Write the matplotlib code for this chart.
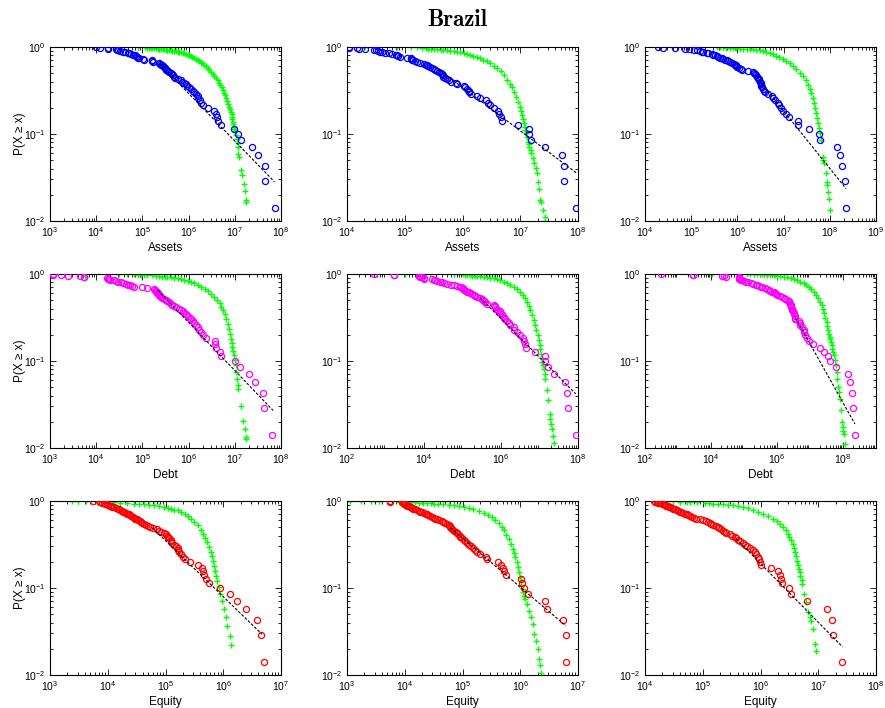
import numpy as np
import matplotlib
matplotlib.use('Agg')
import matplotlib.pyplot as plt
from matplotlib.ticker import LogLocator, NullFormatter, LogFormatterSciNotation

plt.rcParams['font.family'] = ['Liberation Sans', 'DejaVu Sans']
plt.rcParams['mathtext.fontset'] = 'custom'
plt.rcParams['mathtext.rm'] = 'Liberation Sans'
plt.rcParams['mathtext.it'] = 'Liberation Sans:italic'
plt.rcParams['mathtext.bf'] = 'Liberation Sans:bold'

# ---------------- data (log10 of values) ----------------
variables = ['Assets', 'Debt', 'Equity']
emp_colors = ['#0000ff', '#ff00ff', '#ff0000']

# empirical observations, sorted from largest to smallest (log10 x)
assets_1 = [7.86, 7.65, 7.65, 7.51, 7.38, 7.13, 7.06, 6.98, 6.71, 6.63,
            6.62, 6.60, 6.56, 6.43, 6.31, 6.27, 6.24, 6.21, 6.20, 6.16,
            6.12, 6.09, 6.05, 6.00, 5.96, 5.94, 5.90, 5.86, 5.83, 5.76,
            5.70, 5.68, 5.66, 5.64, 5.62, 5.58, 5.55, 5.52, 5.50, 5.48,
            5.46, 5.44, 5.42, 5.40, 5.38, 5.36, 5.22, 5.21, 5.20, 5.03,
            5.02, 4.92, 4.90, 4.88, 4.86, 4.84, 4.80, 4.76, 4.72, 4.68,
            4.62, 4.58, 4.52, 4.47, 4.44, 4.42, 4.25, 4.25, 4.09, 4.00]
assets_2 = [7.97, 7.76, 7.76, 7.72, 7.43, 7.19, 7.16, 7.15, 6.96, 6.68,
            6.67, 6.64, 6.61, 6.54, 6.48, 6.45, 6.40, 6.31, 6.25, 6.14,
            6.12, 6.11, 6.08, 6.05, 6.02, 5.90, 5.88, 5.80, 5.76, 5.73,
            5.70, 5.67, 5.66, 5.64, 5.62, 5.59, 5.56, 5.53, 5.50, 5.47,
            5.44, 5.41, 5.39, 5.36, 5.33, 5.27, 5.21, 5.18, 5.15, 5.13,
            5.10, 5.10, 5.04, 4.92, 4.89, 4.87, 4.84, 4.78, 4.72, 4.66,
            4.61, 4.57, 4.53, 4.51, 4.46, 4.32, 4.20, 4.17, 4.03, 4.03]
assets_3 = [8.34, 8.32, 8.27, 8.22, 8.15, 7.78, 7.76, 7.55, 7.31, 7.31,
            7.12, 7.05, 6.99, 6.95, 6.91, 6.88, 6.81, 6.77, 6.74, 6.66,
            6.59, 6.57, 6.55, 6.53, 6.52, 6.52, 6.50, 6.48, 6.47, 6.46,
            6.45, 6.43, 6.41, 6.39, 6.37, 6.34, 6.24, 6.11, 6.07, 6.03,
            6.00, 5.98, 5.98, 5.95, 5.92, 5.88, 5.84, 5.80, 5.77, 5.74,
            5.69, 5.66, 5.62, 5.58, 5.56, 5.51, 5.48, 5.45, 5.37, 5.35,
            5.26, 5.24, 5.18, 5.13, 5.06, 4.96, 4.86, 4.65, 4.38, 4.29]
debt_1 = [7.81, 7.64, 7.61, 7.43, 7.30, 7.11, 7.01, 6.71, 6.68, 6.60,
          6.58, 6.58, 6.38, 6.31, 6.26, 6.23, 6.20, 6.16, 6.12, 6.09,
          6.05, 6.02, 5.98, 5.94, 5.91, 5.87, 5.83, 5.80, 5.73, 5.69,
          5.65, 5.62, 5.58, 5.54, 5.51, 5.47, 5.43, 5.40, 5.38, 5.36,
          5.34, 5.33, 5.31, 5.30, 5.29, 5.27, 5.25, 5.11, 5.00, 4.82,
          4.78, 4.73, 4.69, 4.64, 4.58, 4.53, 4.47, 4.42, 4.38, 4.29,
          4.27, 4.25, 4.24, 3.74, 3.73, 3.65, 3.40, 3.23, 3.07, 3.06]
debt_2 = [7.94, 7.74, 7.71, 7.67, 7.37, 7.21, 7.15, 7.14, 6.89, 6.64,
          6.62, 6.61, 6.57, 6.50, 6.42, 6.35, 6.33, 6.24, 6.20, 6.16,
          6.11, 6.07, 6.05, 6.03, 5.98, 5.97, 5.91, 5.88, 5.85, 5.84,
          5.81, 5.64, 5.58, 5.55, 5.53, 5.51, 5.46, 5.38, 5.33, 5.29,
          5.25, 5.20, 5.16, 5.12, 5.08, 5.05, 5.02, 5.00, 4.97, 4.94,
          4.86, 4.77, 4.70, 4.60, 4.51, 4.47, 4.42, 4.34, 4.29, 4.25,
          4.21, 4.01, 3.99, 3.95, 3.90, 3.87, 3.86, 3.23, 3.23, 2.71]
debt_3 = [8.36, 8.31, 8.26, 8.21, 8.16, 7.78, 7.60, 7.54, 7.42, 7.30,
          7.10, 6.97, 6.92, 6.86, 6.83, 6.81, 6.76, 6.71, 6.69, 6.66,
          6.56, 6.55, 6.54, 6.51, 6.50, 6.49, 6.46, 6.44, 6.43, 6.42,
          6.41, 6.39, 6.37, 6.36, 6.31, 6.25, 6.20, 6.15, 6.10, 6.00,
          5.97, 5.93, 5.90, 5.85, 5.80, 5.75, 5.70, 5.63, 5.56, 5.50,
          5.45, 5.40, 5.35, 5.27, 5.20, 5.13, 5.07, 5.00, 4.95, 4.91,
          4.89, 4.86, 4.84, 4.84, 4.46, 4.38, 4.33, 3.45, 3.45, 2.48]
equity_1 = [6.70, 6.65, 6.59, 6.40, 6.24, 6.11, 5.94, 5.76, 5.70, 5.67,
            5.65, 5.63, 5.56, 5.43, 5.33, 5.30, 5.27, 5.24, 5.22, 5.21,
            5.18, 5.15, 5.12, 5.10, 5.09, 5.06, 5.04, 5.02, 5.00, 4.98,
            4.93, 4.89, 4.86, 4.79, 4.74, 4.69, 4.66, 4.63, 4.60, 4.57,
            4.55, 4.53, 4.50, 4.48, 4.45, 4.43, 4.41, 4.39, 4.36, 4.34,
            4.32, 4.29, 4.27, 4.25, 4.22, 4.19, 4.17, 4.14, 4.11, 4.08,
            4.06, 4.04, 4.01, 3.99, 3.96, 3.93, 3.90, 3.87, 3.86, 3.74]
equity_2 = [6.79, 6.79, 6.74, 6.46, 6.42, 6.13, 6.06, 6.03, 6.01, 5.76,
            5.72, 5.70, 5.66, 5.61, 5.42, 5.40, 5.31, 5.25, 5.22, 5.18,
            5.15, 5.11, 5.08, 5.05, 5.02, 4.99, 4.96, 4.95, 4.93, 4.90,
            4.88, 4.85, 4.82, 4.80, 4.79, 4.78, 4.76, 4.73, 4.70, 4.67,
            4.65, 4.59, 4.56, 4.53, 4.50, 4.47, 4.44, 4.41, 4.39, 4.36,
            4.33, 4.30, 4.27, 4.24, 4.21, 4.18, 4.15, 4.13, 4.10, 4.09,
            4.07, 4.04, 4.03, 4.01, 3.99, 3.98, 3.97, 3.95, 3.74, 3.74]
equity_3 = [7.41, 7.25, 7.24, 7.15, 6.80, 6.52, 6.49, 6.38, 6.36, 6.33,
            6.30, 6.19, 6.01, 5.99, 5.97, 5.96, 5.93, 5.90, 5.87, 5.81,
            5.76, 5.73, 5.70, 5.65, 5.61, 5.58, 5.55, 5.50, 5.47, 5.41,
            5.38, 5.35, 5.32, 5.29, 5.27, 5.23, 5.18, 5.15, 5.12, 5.09,
            5.05, 5.01, 4.95, 4.89, 4.85, 4.81, 4.78, 4.75, 4.72, 4.69,
            4.66, 4.63, 4.60, 4.58, 4.55, 4.52, 4.49, 4.46, 4.43, 4.41,
            4.39, 4.36, 4.35, 4.33, 4.29, 4.26, 4.23, 4.20, 4.17, 4.16]

# green model points: (log10 x, log10 P)
model_a1 = [(4.42, 0.0), (4.91, 0.0), (5.05, -0.004), (5.11, -0.012), (5.14, -0.008),
            (5.18, -0.012), (5.21, -0.012), (5.25, -0.015), (5.29, -0.017), (5.33, -0.019),
            (5.36, -0.021), (5.40, -0.023), (5.44, -0.025), (5.47, -0.027), (5.50, -0.029),
            (5.54, -0.031), (5.58, -0.035), (5.62, -0.038), (5.65, -0.042), (5.69, -0.046),
            (5.72, -0.050), (5.76, -0.054), (5.80, -0.058), (5.83, -0.062), (5.87, -0.067),
            (5.91, -0.073), (5.94, -0.080), (5.98, -0.088), (6.01, -0.096), (6.05, -0.104),
            (6.08, -0.113), (6.12, -0.123), (6.16, -0.134), (6.20, -0.146), (6.23, -0.159),
            (6.27, -0.173), (6.30, -0.188), (6.34, -0.204), (6.38, -0.222), (6.42, -0.242),
            (6.45, -0.262), (6.49, -0.285), (6.52, -0.307), (6.56, -0.331), (6.59, -0.357),
            (6.63, -0.385), (6.66, -0.411), (6.69, -0.438), (6.72, -0.465), (6.74, -0.492),
            (6.77, -0.523), (6.79, -0.554), (6.82, -0.585), (6.84, -0.615), (6.86, -0.650),
            (6.88, -0.685), (6.90, -0.713), (6.91, -0.742), (6.93, -0.771), (6.94, -0.800),
            (6.95, -0.829), (6.96, -0.858), (6.97, -0.887), (6.98, -0.915), (6.99, -0.940),
            (7.00, -0.962), (7.02, -1.012), (7.04, -1.062), (7.06, -1.108), (7.07, -1.146),
            (7.08, -1.231), (7.09, -1.262), (7.14, -1.415), (7.16, -1.473), (7.19, -1.569),
            (7.22, -1.654), (7.25, -1.754), (7.25, -1.781)]
model_a2 = [(4.32, -0.004), (4.87, 0.0), (5.10, -0.004), (5.21, -0.004), (5.30, -0.012),
            (5.36, -0.015), (5.41, -0.019), (5.46, -0.021), (5.50, -0.023), (5.56, -0.027),
            (5.62, -0.031), (5.67, -0.035), (5.73, -0.038), (5.79, -0.044), (5.85, -0.050),
            (5.90, -0.056), (5.96, -0.062), (6.02, -0.071), (6.08, -0.081), (6.13, -0.090),
            (6.19, -0.100), (6.25, -0.113), (6.31, -0.127), (6.36, -0.145), (6.42, -0.165),
            (6.48, -0.188), (6.54, -0.215), (6.60, -0.246), (6.66, -0.281), (6.71, -0.327),
            (6.77, -0.377), (6.82, -0.420), (6.86, -0.462), (6.90, -0.515), (6.93, -0.569),
            (6.96, -0.627), (6.99, -0.685), (7.01, -0.733), (7.03, -0.781), (7.05, -0.829),
            (7.06, -0.877), (7.08, -0.915), (7.09, -0.954), (7.10, -0.992), (7.12, -1.031),
            (7.13, -1.088), (7.15, -1.120), (7.16, -1.146), (7.18, -1.185), (7.19, -1.223),
            (7.22, -1.281), (7.24, -1.338), (7.27, -1.396), (7.29, -1.454), (7.31, -1.550),
            (7.32, -1.627), (7.35, -1.762), (7.36, -1.781), (7.39, -1.877), (7.42, -1.954),
            (7.42, -2.000)]
model_a3 = [(5.10, 0.0), (5.55, 0.0), (5.62, -0.004), (5.69, -0.004), (5.76, -0.008),
            (5.83, -0.012), (5.90, -0.013), (5.98, -0.015), (6.05, -0.019), (6.12, -0.023),
            (6.20, -0.023), (6.27, -0.025), (6.34, -0.028), (6.41, -0.031), (6.48, -0.040),
            (6.55, -0.050), (6.62, -0.059), (6.70, -0.069), (6.77, -0.083), (6.84, -0.100),
            (6.91, -0.118), (6.99, -0.138), (7.06, -0.160), (7.13, -0.185), (7.20, -0.218),
            (7.27, -0.254), (7.35, -0.294), (7.42, -0.338), (7.48, -0.385), (7.53, -0.435),
            (7.57, -0.483), (7.60, -0.531), (7.63, -0.588), (7.65, -0.646), (7.68, -0.704),
            (7.71, -0.762), (7.73, -0.819), (7.74, -0.877), (7.76, -0.935), (7.78, -0.992),
            (7.80, -1.069), (7.85, -1.262), (7.86, -1.300), (7.88, -1.338), (7.91, -1.454),
            (7.94, -1.550), (7.95, -1.588), (7.96, -1.665), (7.98, -1.742), (8.01, -1.877)]
model_d1 = [(3.76, -0.023), (4.49, -0.004), (4.66, -0.004), (4.82, -0.004), (4.90, -0.008),
            (4.96, -0.012), (5.03, -0.012), (5.10, -0.012), (5.20, -0.015), (5.30, -0.021),
            (5.36, -0.025), (5.43, -0.031), (5.48, -0.031), (5.54, -0.031), (5.61, -0.036),
            (5.69, -0.042), (5.76, -0.050), (5.83, -0.058), (5.90, -0.067), (5.98, -0.077),
            (6.05, -0.091), (6.12, -0.108), (6.20, -0.126), (6.27, -0.146), (6.35, -0.170),
            (6.42, -0.196), (6.49, -0.227), (6.56, -0.262), (6.62, -0.300), (6.67, -0.338),
            (6.71, -0.377), (6.74, -0.415), (6.78, -0.463), (6.82, -0.512), (6.85, -0.570),
            (6.87, -0.627), (6.89, -0.685), (6.91, -0.742), (6.93, -0.790), (6.94, -0.838),
            (6.96, -0.887), (6.98, -0.935), (7.00, -0.992), (7.02, -1.050), (7.03, -1.127),
            (7.05, -1.204), (7.07, -1.281), (7.08, -1.319), (7.14, -1.512), (7.18, -1.685),
            (7.22, -1.781), (7.25, -1.877), (7.25, -1.896)]
model_d2 = [(3.50, 0.0), (4.16, 0.0), (4.77, 0.0), (5.00, -0.004), (5.06, -0.008),
            (5.12, -0.012), (5.19, -0.015), (5.25, -0.019), (5.32, -0.021), (5.38, -0.023),
            (5.46, -0.027), (5.55, -0.031), (5.63, -0.036), (5.72, -0.042), (5.81, -0.051),
            (5.90, -0.062), (5.98, -0.074), (6.07, -0.088), (6.15, -0.106), (6.24, -0.127),
            (6.33, -0.150), (6.42, -0.177), (6.50, -0.208), (6.57, -0.242), (6.63, -0.280),
            (6.68, -0.319), (6.72, -0.367), (6.76, -0.415), (6.80, -0.473), (6.85, -0.531),
            (6.88, -0.590), (6.91, -0.646), (6.95, -0.704), (6.98, -0.760), (7.00, -0.819),
            (7.02, -0.867), (7.04, -0.915), (7.06, -0.963), (7.07, -1.012), (7.09, -1.050),
            (7.11, -1.088), (7.13, -1.146), (7.15, -1.204), (7.19, -1.338), (7.22, -1.454),
            (7.26, -1.608), (7.28, -1.665), (7.30, -1.723), (7.32, -1.781), (7.34, -1.858),
            (7.37, -1.942)]
model_d3 = [(4.03, 0.0), (5.09, 0.0), (5.19, 0.0), (5.30, -0.004), (5.39, -0.004),
            (5.47, -0.004), (5.55, 0.0), (5.62, -0.004), (5.70, -0.008), (5.80, -0.012),
            (5.90, -0.015), (6.00, -0.019), (6.10, -0.025), (6.20, -0.031), (6.30, -0.036),
            (6.41, -0.042), (6.51, -0.055), (6.61, -0.069), (6.71, -0.088), (6.81, -0.108),
            (6.89, -0.127), (6.96, -0.146), (7.04, -0.175), (7.12, -0.204), (7.19, -0.242),
            (7.25, -0.281), (7.30, -0.320), (7.35, -0.358), (7.39, -0.406), (7.42, -0.454),
            (7.46, -0.502), (7.50, -0.550), (7.53, -0.598), (7.55, -0.646), (7.58, -0.685),
            (7.60, -0.723), (7.62, -0.752), (7.64, -0.781), (7.66, -0.820), (7.68, -0.858),
            (7.70, -0.897), (7.72, -0.935), (7.75, -0.990), (7.78, -1.050), (7.81, -1.127),
            (7.83, -1.204), (7.86, -1.300), (7.88, -1.358), (7.91, -1.435), (7.93, -1.558),
            (7.98, -1.704), (8.00, -1.762), (8.01, -1.800), (8.03, -1.838), (8.05, -1.954)]
model_e1 = [(3.38, -0.004), (3.49, -0.004), (3.63, -0.004), (3.81, -0.004), (3.90, -0.008),
            (3.99, -0.012), (4.10, -0.015), (4.22, -0.019), (4.33, -0.025), (4.45, -0.031),
            (4.54, -0.034), (4.63, -0.038), (4.72, -0.044), (4.80, -0.050), (4.89, -0.059),
            (4.98, -0.069), (5.04, -0.078), (5.09, -0.088), (5.15, -0.098), (5.21, -0.108),
            (5.27, -0.126), (5.33, -0.146), (5.39, -0.174), (5.44, -0.204), (5.50, -0.241),
            (5.56, -0.281), (5.61, -0.329), (5.65, -0.377), (5.69, -0.425), (5.72, -0.473),
            (5.75, -0.530), (5.78, -0.588), (5.80, -0.636), (5.82, -0.685), (5.84, -0.742),
            (5.86, -0.800), (5.88, -0.857), (5.90, -0.915), (5.92, -0.992), (5.95, -1.069),
            (5.98, -1.146), (6.01, -1.242), (6.04, -1.338), (6.07, -1.435), (6.11, -1.550),
            (6.14, -1.654)]
model_e2 = [(3.05, -0.004), (3.25, -0.004), (3.42, -0.004), (3.55, -0.004), (3.90, -0.008),
            (4.10, -0.012), (4.17, -0.015), (4.24, -0.019), (4.31, -0.021), (4.39, -0.023),
            (4.45, -0.027), (4.50, -0.031), (4.58, -0.034), (4.67, -0.038), (4.76, -0.044),
            (4.85, -0.050), (4.94, -0.059), (5.02, -0.069), (5.11, -0.082), (5.19, -0.096),
            (5.28, -0.115), (5.37, -0.135), (5.44, -0.160), (5.51, -0.185), (5.57, -0.219),
            (5.63, -0.254), (5.68, -0.296), (5.72, -0.338), (5.76, -0.386), (5.80, -0.435),
            (5.84, -0.492), (5.87, -0.550), (5.89, -0.598), (5.91, -0.646), (5.94, -0.704),
            (5.96, -0.762), (5.98, -0.820), (5.99, -0.877), (6.01, -0.925), (6.02, -0.973),
            (6.04, -1.010), (6.05, -1.050), (6.07, -1.090), (6.09, -1.127), (6.12, -1.185),
            (6.15, -1.262), (6.19, -1.338), (6.22, -1.415), (6.24, -1.531), (6.27, -1.608),
            (6.30, -1.704), (6.32, -1.819), (6.35, -1.885), (6.36, -1.973)]
model_e3 = [(4.20, 0.0), (4.37, -0.004), (4.49, -0.004), (4.60, -0.008), (4.72, -0.012),
            (4.78, -0.012), (4.90, -0.015), (5.04, -0.019), (5.11, -0.025), (5.18, -0.031),
            (5.26, -0.034), (5.35, -0.038), (5.44, -0.044), (5.53, -0.050), (5.61, -0.059),
            (5.70, -0.069), (5.78, -0.083), (5.87, -0.100), (5.95, -0.121), (6.04, -0.146),
            (6.13, -0.175), (6.22, -0.204), (6.28, -0.233), (6.33, -0.262), (6.39, -0.300),
            (6.45, -0.338), (6.48, -0.377), (6.50, -0.415), (6.53, -0.453), (6.56, -0.492),
            (6.58, -0.540), (6.60, -0.588), (6.62, -0.636), (6.63, -0.685), (6.65, -0.733),
            (6.66, -0.781), (6.68, -0.820), (6.69, -0.858), (6.71, -0.906), (6.72, -0.954),
            (6.75, -1.069), (6.78, -1.165), (6.82, -1.281), (6.85, -1.338), (6.88, -1.377),
            (6.91, -1.473), (6.94, -1.646), (6.96, -1.723)]

# power-law fit lines: (log10 x start, log10 x end), (log10 P start, log10 P end)
fit_a1 = ([5.36, 7.86], [-0.185, -1.550])
fit_a2 = ([5.59, 7.97], [-0.260, -1.446])
fit_a3 = ([6.41, 8.35], [-0.346, -1.627])
fit_d1 = ([5.33, 7.83], [-0.185, -1.569])
fit_d2 = ([5.46, 7.94], [-0.273, -1.377])
fit_d3 = ([6.56, 8.36], [-0.504, -1.723])
fit_e1 = ([4.77, 6.67], [-0.308, -1.531])
fit_e2 = ([4.79, 6.79], [-0.308, -1.435])
fit_e3 = ([5.58, 7.42], [-0.435, -1.677])

# axis ranges (log10) and tick step (decades) for each panel
xlims = [(3, 8), (4, 8), (4, 9),
         (3, 8), (2, 8), (2, 9),
         (3, 7), (3, 7), (4, 8)]
xstep = [1, 1, 1, 1, 2, 2, 1, 1, 1]

empirical = [assets_1, assets_2, assets_3, debt_1, debt_2, debt_3,
             equity_1, equity_2, equity_3]
models = [model_a1, model_a2, model_a3, model_d1, model_d2, model_d3,
          model_e1, model_e2, model_e3]
fits = [fit_a1, fit_a2, fit_a3, fit_d1, fit_d2, fit_d3, fit_e1, fit_e2, fit_e3]

# ---------------- figure ----------------
W, H = 885, 708
fig = plt.figure(figsize=(W / 100, H / 100), dpi=100)
col_left = [50, 347, 645]
row_top = [47, 274, 501]
ax_w, ax_h = 231, 174

for i in range(9):
    r, c = divmod(i, 3)
    ax = fig.add_axes([col_left[c] / W, 1 - (row_top[r] + ax_h) / H, ax_w / W, ax_h / H])
    ax.set_xscale('log')
    ax.set_yscale('log')

    mlx, mly = zip(*models[i])
    ax.plot(np.power(10.0, mlx), np.power(10.0, mly), linestyle='none', marker='+',
            color='#00ff00', ms=4.8, mew=1.0, zorder=2)

    ex = np.power(10.0, np.array(empirical[i]))
    n = len(ex)
    ey = (np.arange(n) + 1) / n
    ax.plot(ex, ey, linestyle='none', marker='o', mfc='none', mec=emp_colors[r],
            ms=4.4, mew=0.9, zorder=3)

    fx, fy = fits[i]
    ax.plot(np.power(10.0, fx), np.power(10.0, fy), color='black', lw=0.8,
            linestyle=(0, (2.5, 1.5)), zorder=4)

    lo, hi = xlims[i]
    ax.set_xlim(10.0 ** lo, 10.0 ** hi)
    ax.set_ylim(1e-2, 1.0)
    ax.xaxis.set_major_locator(LogLocator(base=10.0 ** xstep[i]))
    ax.xaxis.set_major_formatter(LogFormatterSciNotation(base=10.0))
    ax.xaxis.set_minor_locator(LogLocator(base=10.0, subs=np.arange(2, 10), numticks=40))
    ax.xaxis.set_minor_formatter(NullFormatter())
    ax.yaxis.set_major_locator(LogLocator(base=10.0))
    ax.yaxis.set_minor_locator(LogLocator(base=10.0, subs=np.arange(2, 10), numticks=40))
    ax.yaxis.set_minor_formatter(NullFormatter())
    ax.tick_params(which='both', direction='in', top=True, right=True, width=0.6,
                   labelsize=7.5, colors='black')
    ax.tick_params(which='major', length=4, pad=3)
    ax.tick_params(which='minor', length=2)
    for s in ax.spines.values():
        s.set_linewidth(0.8)
    ax.set_xlabel(variables[r], fontsize=8.5, labelpad=2.5)
    if c == 0:
        ax.set_ylabel('P(X \u2265 x)', fontsize=8.5, labelpad=-1)

fig.text(457 / W, 1 - 20 / H, 'Brazil', ha='center', va='center',
         fontsize=16.5, fontfamily='cmb10')

fig.savefig('out.png', dpi=100)
